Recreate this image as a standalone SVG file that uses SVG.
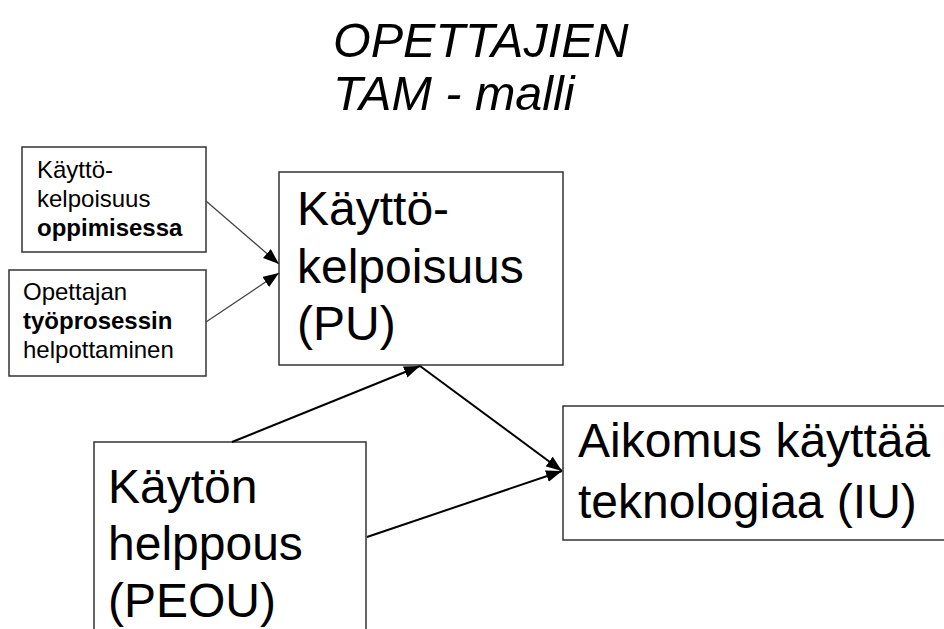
<svg xmlns="http://www.w3.org/2000/svg" width="944" height="629" viewBox="0 0 944 629">
<defs>
<marker id="ah" viewBox="0 0 16 12" refX="16" refY="6" markerWidth="16" markerHeight="12" markerUnits="userSpaceOnUse" orient="auto">
<path d="M0,0 L16,6 L0,12 Z" fill="#000"/>
</marker>
</defs>
<style>
.box{fill:#fff;stroke:#333;stroke-width:1.5}
.t{font-family:"Liberation Sans",Arial,sans-serif;fill:#000}
.big{font-size:48px}
.small{font-size:24px}
.b{font-weight:bold}
.title{font-family:"Liberation Sans",Arial,sans-serif;font-size:48.5px;font-style:italic;fill:#000}
.conn{stroke:#000;stroke-width:2;fill:none;marker-end:url(#ah)}
.connthin{stroke:#444;stroke-width:1.3;fill:none;marker-end:url(#ah)}
</style>
<rect width="944" height="629" fill="#fff"/>
<g id="title">
<text class="title" x="333" y="57">OPETTAJIEN</text>
<text class="title" x="333" y="110">TAM - malli</text>
</g>
<g id="n-oppimisessa">
<rect class="box" x="22" y="147" width="184" height="105"/>
<text class="t small" x="37" y="178">Käyttö-</text>
<text class="t small" x="37" y="207">kelpoisuus</text>
<text class="t small b" x="37" y="236">oppimisessa</text>
</g>
<g id="n-tyoprosessi">
<rect class="box" x="9" y="270" width="197" height="106"/>
<text class="t small" x="23" y="300">Opettajan</text>
<text class="t small b" x="23" y="329">työprosessin</text>
<text class="t small" x="23" y="358">helpottaminen</text>
</g>
<g id="n-pu">
<rect class="box" x="279" y="172" width="284" height="193"/>
<text class="t big" x="297" y="225">Käyttö-</text>
<text class="t big" x="297" y="283">kelpoisuus</text>
<text class="t big" x="297" y="340">(PU)</text>
</g>
<g id="n-peou">
<rect class="box" x="94" y="442" width="272" height="200"/>
<text class="t big" x="108" y="503">Käytön</text>
<text class="t big" x="108" y="560">helppous</text>
<text class="t big" x="108" y="617">(PEOU)</text>
</g>
<g id="n-iu">
<rect class="box" x="563" y="406" width="400" height="134"/>
<text class="t big" x="578" y="457">Aikomus käyttää</text>
<text class="t big" x="578" y="518">teknologiaa (IU)</text>
</g>
<g id="connectors">
<line class="connthin" x1="206" y1="201" x2="279" y2="264"/>
<line class="connthin" x1="206" y1="322" x2="279" y2="273"/>
<line class="conn" x1="232" y1="442" x2="420" y2="366"/>
<line class="conn" x1="420" y1="366" x2="562" y2="471"/>
<line class="conn" x1="367" y1="537" x2="562" y2="471"/>
</g>
</svg>
